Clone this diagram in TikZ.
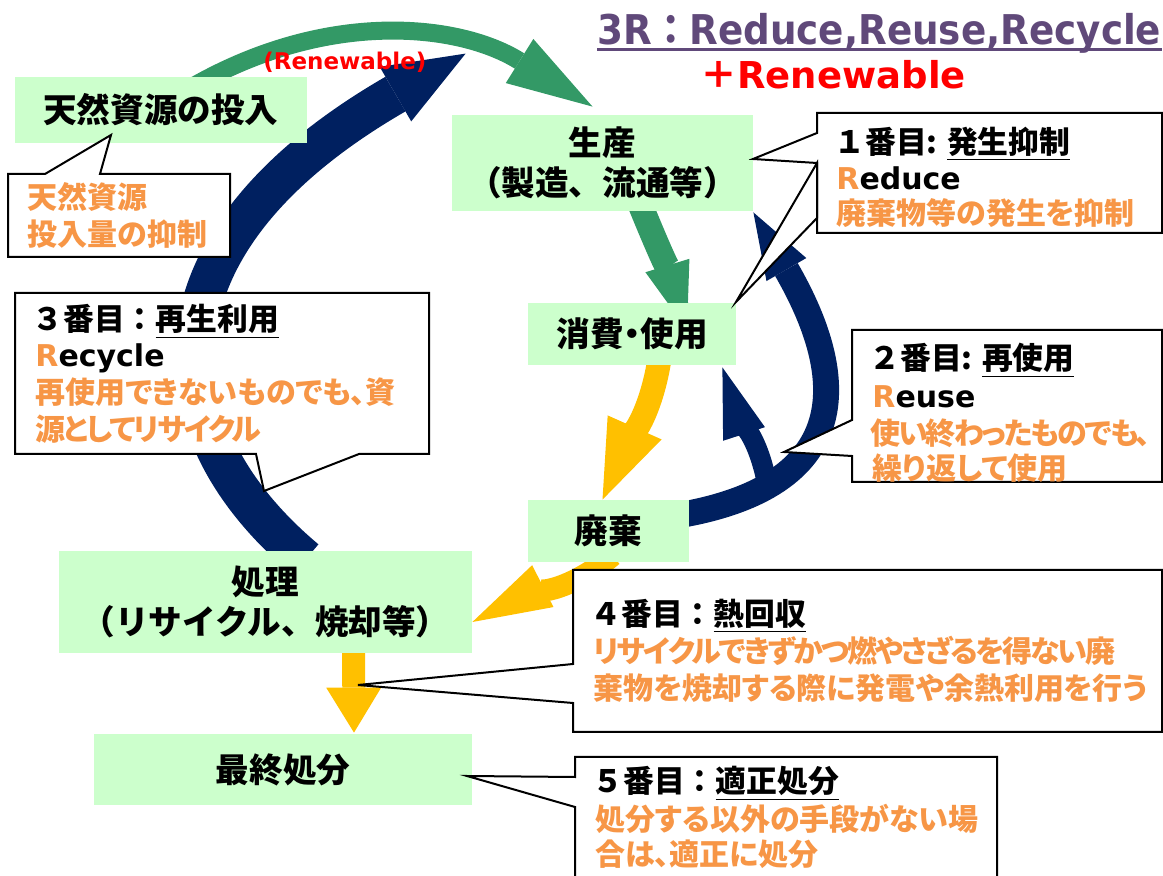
\documentclass[tikz,border=0pt]{standalone}
\usepackage{fontspec}
\usepackage{graphicx}
\usepackage{tikz}
\usetikzlibrary{arrows.meta}
\usetikzlibrary{calc}
\usetikzlibrary{backgrounds}
\newfontfamily\jp{Noto Sans CJK JP}
\newfontfamily\jpp{Noto Sans CJK JP}[RawFeature=+palt]
\newfontfamily\jpt{Noto Sans CJK JP}[RawFeature=+palt, LetterSpace=-7]
\newfontfamily\vd{DejaVu Sans}
\definecolor{boxgreen}{RGB}{204, 255, 204}
\definecolor{mgreen}{RGB}{51, 153, 102}
\definecolor{myellow}{RGB}{255, 192, 0}
\definecolor{mnavy}{RGB}{0, 32, 96}
\definecolor{morange}{RGB}{247, 150, 70}
\definecolor{mpurple}{RGB}{96, 73, 122}

\begin{document}
\begin{tikzpicture}[x=0.5pt, y=0.5pt,
    box/.style={fill=boxgreen, inner sep=0pt, align=center,
      font=\jp\bfseries\fontsize{16.8pt}{20pt}\selectfont},
    callout/.style={draw=black, fill=white, line width=1pt},
    head/.style={anchor=base west, inner sep=0pt,
      font=\jp\bfseries\fontsize{15.4pt}{18pt}\selectfont},
    note/.style={anchor=base west, inner sep=0pt, text=morange,
      font=\jpp\bfseries\fontsize{15pt}{18pt}\selectfont},
    tnote/.style={note, font=\jpt\bfseries\fontsize{15pt}{18pt}\selectfont},
    word/.style={anchor=base west, inner sep=0pt,
      font=\vd\bfseries\fontsize{15pt}{18pt}\selectfont},
    flow/.style n args={3}{line width=#1,
      -{Triangle[length=#2, width=#3, line width=0pt]}}]
      \useasboundingbox (0, 0) rectangle (1163, -876);

      % the stages
      \node [box, minimum width=146pt, minimum height=33pt] (shizen) at (161, -110) {天然資源の投入};
      \node [box, minimum width=150.5pt, minimum height=48pt] (seisan) at (602.5, -163) {生産\\（製造、流通等）};
      \node [box, minimum width=104pt, minimum height=31pt] (shohi) at (632, -334) {{\jpp 消費・使用}};
      \node [box, minimum width=80.5pt, minimum height=31pt] (haiki) at (608.5, -531) {廃棄};
      \node [box, minimum width=206.5pt, minimum height=51pt] (shori) at (265.5, -602) {処理\\（リサイクル、焼却等）};
      \node [box, minimum width=189pt, minimum height=35.5pt] (saishu) at (283, -769.5) {最終処分};

      % flows, under the boxes
      \begin{scope}[on background layer]
      \draw [mgreen, flow={9pt}{43pt}{26pt}] ($(shizen.north)+(30, -11)$) to [out=30, in=148] ($(seisan.north)+(-10, 8)$);
      \draw [mnavy, flow={20pt}{40.5pt}{31.5pt}] ($(shori.north)+(40, -9)$) to [out=140, in=-150, out looseness=1, in looseness=1.8] ($(seisan.north west)+(14, 61)$);
      \draw [mgreen, flow={12.5pt}{33.5pt}{23pt}] ($(seisan.south)+(34, 16)$) to [out=-68, in=107] ($(shohi.north)+(55, -27)$);
      \draw [myellow, flow={12pt}{39.5pt}{29.5pt}] ($(shohi.south)+(28, 10)$) to [out=-98, in=66] ($(haiki.north)+(-6, 0)$);
      \draw [mnavy, flow={13pt}{33pt}{23pt}] ($(haiki.east)+(-9, 16)$) to [out=10, in=-60, looseness=1.5] ($(seisan.south east)+(0, -1)$);
      \draw [mnavy, flow={10pt}{35pt}{22pt}] ($(haiki.east)+(78, 45)$) to [out=100, in=-72] ($(shohi.south east)+(-14, -2)$);
      \draw [myellow, flow={11pt}{39.5pt}{23.5pt}] ($(haiki.south)+(4, 7)$) to [out=-140, in=27] ($(shori.east)+(0, -20)$);
      \draw [myellow, flow={11.5pt}{22.5pt}{27.5pt}] ($(shori.south)+(88, 13)$) -- ($(saishu.north)+(71, 1)$);
      \end{scope}

      % callouts
      \draw [callout] (8, -174) -- (45, -174) -- (111, -135) -- (100, -174) -- (230, -174) -- (230, -257) -- (8, -257) -- cycle;
      \node [note] (a1) at (27, -209) {天然資源};
      \node [note] (a2) at (27, -246) {投入量の抑制};

      \draw [callout] (817, -113) -- (1162, -113) -- (1162, -233) -- (817, -233) -- (817, -163) -- (753, -159) -- (817, -133) -- cycle;
      \draw [callout] (817, -163) -- (736, -302) -- (817, -218) -- cycle;
      \node [head] (b1) at (834, -154) {１番目: \underline{発生抑制}};
      \node [word] (b2) at (836, -190) {\textcolor{morange}{R}educe};
      \node [note] (b3) at (836, -225) {廃棄物等の発生を抑制};

      \draw [callout] (15, -293) -- (429, -293) -- (429, -454) -- (359, -454) -- (264, -491) -- (256, -454) -- (15, -454) -- cycle;
      \node [head] (c1) at (32, -331) {３番目：\underline{再生利用}};
      \node [word] (c2) at (35, -367) {\textcolor{morange}{R}ecycle};
      \node [note] (c3) at (35, -404) {再使用できないものでも、資};
      \node [tnote] (c4) at (35, -441) {源としてリサイクル};

      \draw [callout] (852, -330) -- (1162, -330) -- (1162, -482) -- (852, -482) -- (852, -456) -- (784, -452) -- (852, -420) -- cycle;
      \node [head] (d1) at (869, -370) {２番目: \underline{再使用}};
      \node [word] (d2) at (872, -408) {\textcolor{morange}{R}euse};
      \node [tnote] (d3) at (870, -445) {使い終わったものでも、};
      \node [note] (d4) at (872, -480) {繰り返して使用};

      \draw [callout] (573, -570) -- (1162, -570) -- (1162, -732) -- (573, -732) -- (573, -703) -- (358, -685) -- (573, -664) -- cycle;
      \node [head] (e1) at (590, -626) {４番目：\underline{熱回収}};
      \node [tnote] (e2) at (593, -663) {リサイクルできずかつ燃やさざるを得ない廃};
      \node [note] (e3) at (593, -700) {棄物を焼却する際に発電や余熱利用を行う};

      \draw [callout] (575, -757) -- (997, -757) -- (997, -890) -- (575, -890) -- (575, -807) -- (467, -776) -- (575, -777) -- cycle;
      \node [head] (f1) at (592, -793) {５番目：\underline{適正処分}};
      \node [note] (f2) at (595, -831) {処分する以外の手段がない場};
      \node [note] (f3) at (595, -866) {合は、適正に処分};

      % titles
      \node [anchor=base west, inner sep=0pt, text=red, font=\vd\bfseries\fontsize{11.5pt}{13pt}\selectfont] (renew) at (263, -70) {(Renewable)};
      \node [anchor=base west, inner sep=0pt, text=mpurple, font=\vd\bfseries\fontsize{20.5pt}{24pt}\selectfont] (title) at (597, -45) {\scalebox{0.91}[1]{3R{\jp：}Reduce,Reuse,Recycle}};
      \draw [mpurple, line width=1.2pt] ([yshift=-2.2pt]title.base west) -- ([yshift=-2.2pt]title.base east);
      \node [anchor=base west, inner sep=0pt, text=red, font=\vd\bfseries\fontsize{18.5pt}{22pt}\selectfont] (plus) at (700, -89) {{\jp＋}Renewable};
    \end{tikzpicture}
\end{document}
